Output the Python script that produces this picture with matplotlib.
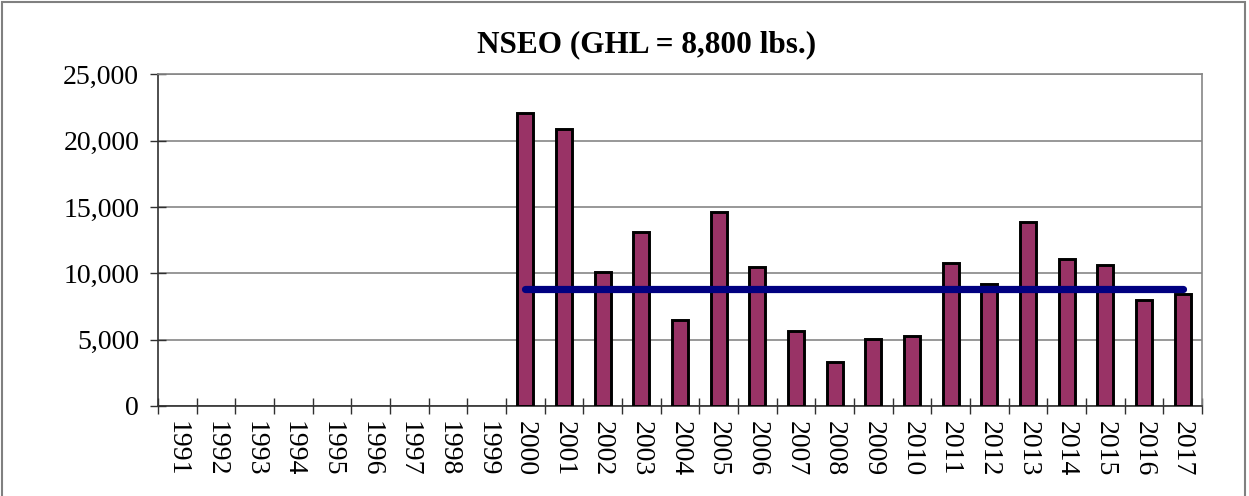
import numpy as np
import matplotlib
matplotlib.use("Agg")
import matplotlib.pyplot as plt
from matplotlib.patches import Rectangle

# NSEO harvest by year (lbs.), no fishery 1991-1999
years = [str(y) for y in range(1991, 2018)]
harvest = [None] * 9 + [22100, 20900, 10100, 13100, 6500, 14650, 10500, 5650,
                        3300, 5050, 5300, 10750, 9200, 13900, 11100, 10600,
                        8000, 8450]
ghl_years = years[9:]
ghl = [8800] * len(ghl_years)

plt.rcParams['font.family'] = ['Liberation Serif', 'DejaVu Serif']

fig = plt.figure(figsize=(12.49, 4.96), dpi=100)
ax = fig.add_axes([0.1265, 0.1815, 0.8359, 0.6683])

x = np.arange(len(years))
vals = np.array([np.nan if v is None else v for v in harvest], dtype=float)
ax.bar(x, vals, width=0.42, color='#993366', edgecolor='black', linewidth=2.1, zorder=3)

gx = [years.index(y) for y in ghl_years]
ax.plot(gx, ghl, color='#000080', linewidth=5.2, solid_capstyle='round', zorder=4)

ax.set_xlim(-0.5, len(years) - 0.5)
ax.set_ylim(0, 25000)
ax.set_yticks(range(0, 25001, 5000))
ax.set_yticklabels([f"{v:,}" for v in range(0, 25001, 5000)], fontsize=20)
ax.yaxis.grid(True, color='#868686', linewidth=1.2, zorder=0)
ax.set_axisbelow(True)

# category boundaries as major ticks, labels on minor ticks
ax.set_xticks(np.arange(-0.5, len(years), 1.0))
ax.set_xticklabels([])
ax.set_xticks(x, minor=True)
ax.set_xticklabels(years, minor=True, rotation=-90, fontsize=20)
ax.tick_params(axis='x', which='major', direction='inout', length=11, width=1, color='#303030')
ax.tick_params(axis='x', which='minor', length=0, pad=11)
ax.tick_params(axis='y', direction='inout', length=11, width=1, color='#303030', pad=8)

for side in ['top', 'right']:
    ax.spines[side].set_color('#868686')
    ax.spines[side].set_linewidth(1.2)
for side in ['left', 'bottom']:
    ax.spines[side].set_color('#303030')
    ax.spines[side].set_linewidth(1.2)

fig.text(0.518, 0.909, 'NSEO (GHL = 8,800 lbs.)', ha='center', va='center',
         fontsize=22.5, fontweight='bold')

fig.patches.append(Rectangle((0.002, -0.01), 0.995, 1.005, transform=fig.transFigure,
                             fill=False, edgecolor='#808080', linewidth=1.5))

fig.savefig('out.png', dpi=100)
